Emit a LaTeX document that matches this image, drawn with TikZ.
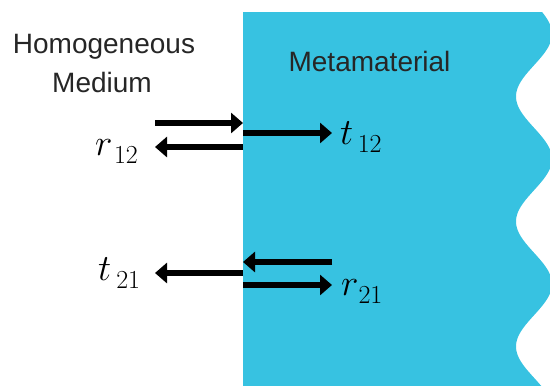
\RequirePackage{fix-cm}
\documentclass[tikz,border=0pt]{standalone}
\usepackage{fontspec}
\newfontfamily\hel{Liberation Sans}
\usetikzlibrary{arrows.meta}
\definecolor{meta}{RGB}{55,194,225}
\newcommand{\mylab}[3]{$#1$\kern#2\raisebox{-8pt}{\fontsize{26}{26}\selectfont #3}}
\begin{document}
\begin{tikzpicture}[x=1pt,y=-1pt,
  arr/.style={line width=6pt,-{Triangle[length=12pt,width=20pt]}},
  txt/.style={inner sep=0pt,anchor=base,font=\hel\fontsize{28}{34}\selectfont,text=black!85},
  mlbl/.style={inner sep=0pt,anchor=base west,font=\fontsize{37}{42}\selectfont}]
\useasboundingbox (0,0) rectangle (550,386);
\begin{scope}
\clip (0,0) rectangle (550,386);
\fill[meta] (243,386) -- (243,12) -- plot[domain=12:386,samples=160,variable=\t] ({534+18*cos(2.88*(\t-34))},\t) -- cycle;
\end{scope}
% texts
\node[txt] (hom) at (104,53) {Homogeneous};
\node[txt] (med) at (102,92) {Medium};
\node[txt] (meta) at (369.5,71) {Metamaterial};
% coordinates
\coordinate (i1) at (155,123);
\coordinate (b1) at (243,123);
\coordinate (b2) at (243,147);
\coordinate (o2) at (155,147);
\coordinate (b3) at (243,133);
\coordinate (o3) at (332,133);
\coordinate (i4) at (332,262);
\coordinate (b4) at (243,262);
\coordinate (b5) at (243,273);
\coordinate (o5) at (155,273);
\coordinate (b6) at (243,285);
\coordinate (o6) at (332,285);
% arrows
\draw[arr] (i1) -- (b1);
\draw[arr] (b2) -- (o2);
\draw[arr] (b3) -- (o3);
\draw[arr] (i4) -- (b4);
\draw[arr] (b5) -- (o5);
\draw[arr] (b6) -- (o6);
% labels
\node[mlbl] (r12) at (95,155) {\mylab{r}{1.5pt}{12}};
\node[mlbl] (t12) at (340,144) {\mylab{t}{4.5pt}{12}};
\node[mlbl] (t21) at (98,280) {\mylab{t}{5pt}{21}};
\node[mlbl] (r21) at (341,295) {\mylab{r}{0pt}{21}};
\end{tikzpicture}
\end{document}
